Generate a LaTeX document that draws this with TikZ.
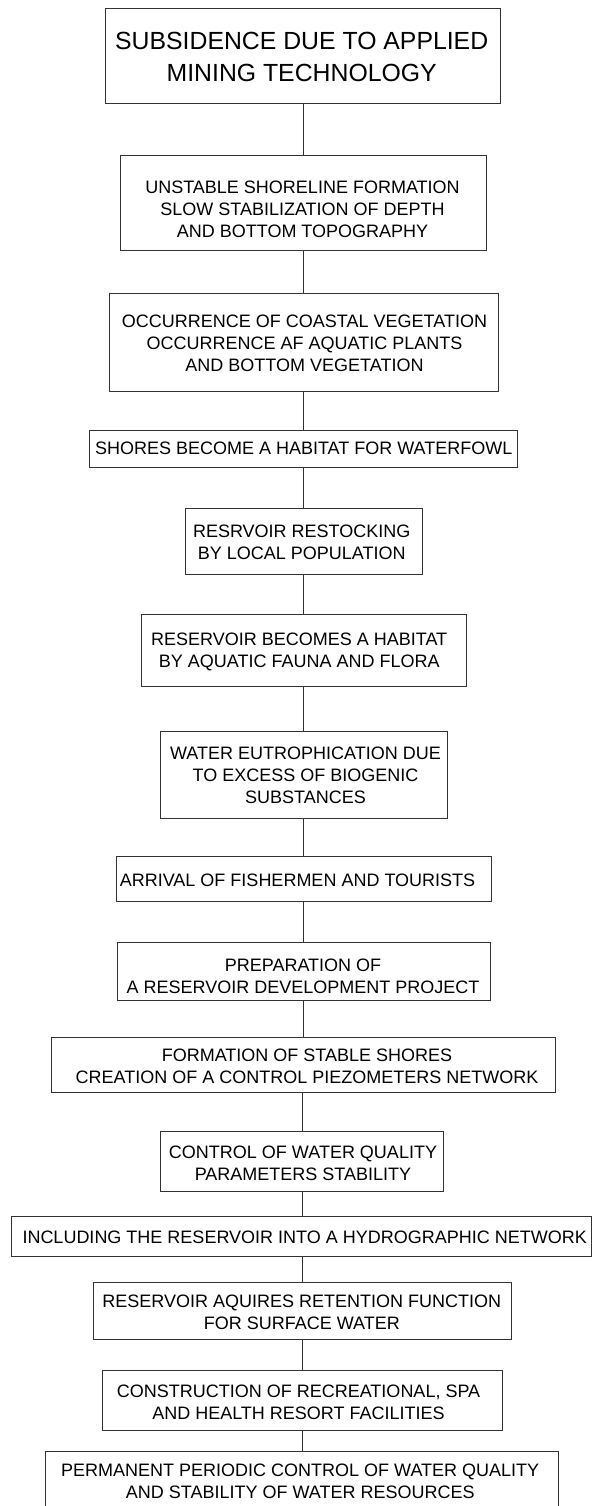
\documentclass[tikz,border=0pt]{standalone}
\usepackage{fontspec}
\setmainfont{Liberation Sans}
\begin{document}
\begin{tikzpicture}[x=1pt,y=-1pt,
  box/.style={draw=black!80, line width=0.9pt, inner sep=0pt, rectangle},
  txt/.style={inner sep=0pt, align=center, font=\fontsize{18}{22}\selectfont},
  bigtxt/.style={inner sep=0pt, align=center, font=\fontsize{24.8}{31.7}\selectfont},
  conn/.style={draw=black!80, line width=0.9pt}]
\clip (0,0) rectangle (592,1506);
\fill[white] (0,0) rectangle (592,1506);
\coordinate (sp) at (303,0);
\coordinate (sq) at (302,0);
% boxes
\node[box, minimum width=395pt,   minimum height=95pt]   (b1)  at (303.2,55.8) {};
\node[box, minimum width=366pt,   minimum height=95.7pt] (b2)  at (303.7,202.85) {};
\node[box, minimum width=389pt,   minimum height=97.7pt] (b3)  at (303.5,342.15) {};
\node[box, minimum width=428.4pt, minimum height=37.7pt] (b4)  at (303.5,448.85) {};
\node[box, minimum width=237.7pt, minimum height=65.5pt] (b5)  at (303.85,541.25) {};
\node[box, minimum width=325pt,   minimum height=72.4pt] (b6)  at (303.5,650.5) {};
\node[box, minimum width=287.3pt, minimum height=87.3pt] (b7)  at (303.65,774.65) {};
\node[box, minimum width=375pt,   minimum height=45pt]   (b8)  at (304.2,879.2) {};
\node[box, minimum width=372.7pt, minimum height=58pt]   (b9)  at (303.65,971.7) {};
\node[box, minimum width=504pt,   minimum height=54.7pt] (b10) at (303,1064.65) {};
\node[box, minimum width=283pt,   minimum height=60.7pt] (b11) at (302.2,1161.35) {};
\node[box, minimum width=579.3pt, minimum height=40pt]   (b12) at (301.35,1236.7) {};
\node[box, minimum width=417.7pt, minimum height=56.6pt] (b13) at (302.15,1311) {};
\node[box, minimum width=399.3pt, minimum height=59.3pt] (b14) at (302.35,1400.35) {};
\node[box, minimum width=513pt,   minimum height=58.3pt] (b15) at (302.2,1480.85) {};
% texts
\node[bigtxt] (t1)  at (301.7,57)    {SUBSIDENCE DUE TO APPLIED\\MINING TECHNOLOGY};
\node[txt]    (t2)  at (302.5,209.2) {UNSTABLE SHORELINE FORMATION\\SLOW STABILIZATION OF DEPTH\\AND BOTTOM TOPOGRAPHY};
\node[txt]    (t3)  at (304.5,343)   {OCCURRENCE OF COASTAL VEGETATION\\OCCURRENCE AF AQUATIC PLANTS\\AND BOTTOM VEGETATION};
\node[txt]    (t4)  at (303.7,448.7) {SHORES BECOME A HABITAT FOR WATERFOWL};
\node[txt]    (t5)  at (301.7,542.5) {RESRVOIR RESTOCKING\\BY LOCAL POPULATION};
\node[txt]    (t6)  at (299.2,652.2) {RESERVOIR BECOMES A HABITAT\\BY AQUATIC FAUNA AND FLORA};
\node[txt]    (t7)  at (305.5,775.7) {WATER EUTROPHICATION DUE\\TO EXCESS OF BIOGENIC\\SUBSTANCES};
\node[txt]    (t8)  at (297.5,880.3) {ARRIVAL OF FISHERMEN AND TOURISTS};
\node[txt]    (t9)  at (303,975.8)   {PREPARATION OF\\A RESERVOIR DEVELOPMENT PROJECT};
\node[txt]    (t10) at (307,1066)    {FORMATION OF STABLE SHORES\\CREATION OF A CONTROL PIEZOMETERS NETWORK};
\node[txt]    (t11) at (303,1163.7)  {CONTROL OF WATER QUALITY\\PARAMETERS STABILITY};
\node[txt]    (t12) at (304.7,1237.5) {INCLUDING THE RESERVOIR INTO A HYDROGRAPHIC NETWORK};
\node[txt]    (t13) at (301.8,1312.5) {RESERVOIR AQUIRES RETENTION FUNCTION\\FOR SURFACE WATER};
\node[txt]    (t14) at (298.5,1402.2) {CONSTRUCTION OF RECREATIONAL, SPA\\AND HEALTH RESORT FACILITIES};
\node[txt]    (t15) at (300.2,1481.5) {PERMANENT PERIODIC CONTROL OF WATER QUALITY\\AND STABILITY OF WATER RESOURCES};
% connectors
\draw[conn] (b1.south -| sp) -- (b2.north -| sp);
\draw[conn] (b2.south -| sp) -- (b3.north -| sp);
\draw[conn] (b3.south -| sp) -- (b4.north -| sp);
\draw[conn] (b4.south -| sp) -- (b5.north -| sp);
\draw[conn] (b5.south -| sp) -- (b6.north -| sp);
\draw[conn] (b6.south -| sp) -- (b7.north -| sp);
\draw[conn] (b7.south -| sp) -- (b8.north -| sp);
\draw[conn] (b8.south -| sp) -- (b9.north -| sp);
\draw[conn] (b9.south -| sp) -- (b10.north -| sp);
\draw[conn] (b10.south -| sq) -- (b11.north -| sq);
\draw[conn] (b11.south -| sq) -- (b12.north -| sq);
\draw[conn] (b12.south -| sq) -- (b13.north -| sq);
\draw[conn] (b13.south -| sq) -- (b14.north -| sq);
\draw[conn] (b14.south -| sq) -- (b15.north -| sq);
\end{tikzpicture}
\end{document}
